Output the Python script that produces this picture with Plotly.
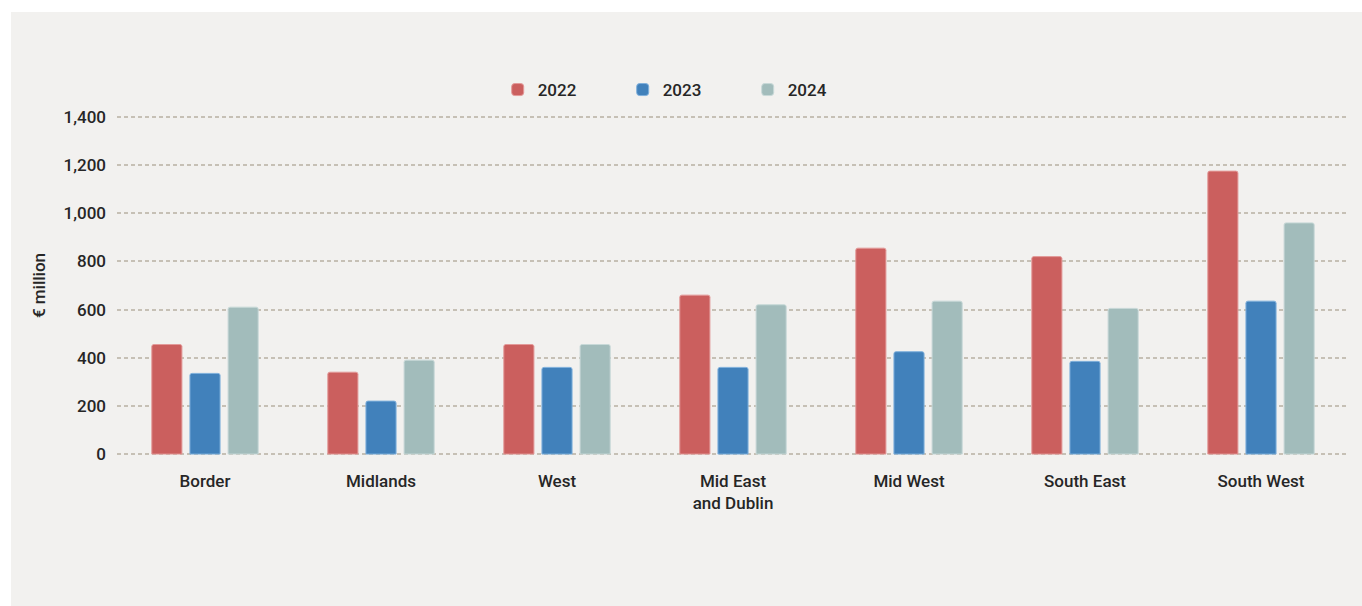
import plotly.graph_objects as go

# Regional values, € million
regions = ["Border", "Midlands", "West", "Mid East<br>and Dublin",
           "Mid West", "South East", "South West"]
years = ["2022", "2023", "2024"]
values_2022 = [455, 340, 455, 660, 855, 820, 1175]
values_2023 = [335, 220, 360, 360, 425, 385, 635]
values_2024 = [610, 390, 455, 620, 635, 605, 960]
y_ticks = [0, 200, 400, 600, 800, 1000, 1200, 1400]

colors = ["#cb5f5e", "#4181bb", "#a2bcbb"]
edges = ["#e39a99", "#7fb0dc", "#c8d9d8"]
panel = "#f2f1ef"
text_col = "#262626"
font_family = "Roboto, 'DejaVu Sans', sans-serif"
label_font = dict(family=font_family, size=17, color=text_col, weight=500)

fig = go.Figure()
for name, vals, c, e in zip(years, [values_2022, values_2023, values_2024], colors, edges):
    fig.add_trace(go.Bar(
        x=regions, y=vals, name=name,
        marker=dict(color=c, line=dict(color=e, width=1), cornerradius=2),
    ))

# plot area: 341 px tall, padded 8 units above and below the 0-1400 span
top, bottom = 115, 150
plot_h = 606 - top - bottom

fig.update_layout(
    width=1362, height=606,
    margin=dict(l=117, r=13, t=top, b=bottom),
    paper_bgcolor="white",
    plot_bgcolor="rgba(0,0,0,0)",
    barmode="group",
    bargap=0.35,
    bargroupgap=0.21,
    font=label_font,
    showlegend=True,
    legend=dict(
        orientation="h",
        x=0.309, xanchor="left",
        y=(606 - bottom - 90) / plot_h, yanchor="middle",
        entrywidth=80,
        font=label_font,
        bgcolor="rgba(0,0,0,0)",
    ),
    shapes=[dict(
        type="rect", xref="paper", yref="paper",
        x0=(11 - 117) / 1232, x1=1.02,
        y0=-0.46, y1=(606 - bottom - 12) / plot_h,
        fillcolor=panel, line=dict(width=0), layer="below",
    )],
)

fig.update_xaxes(
    showgrid=False, showline=False, zeroline=False, ticks="",
    ticklabelstandoff=13,
    tickfont=label_font,
)
fig.update_yaxes(
    range=[-8, 1408],
    tickvals=y_ticks,
    tickformat=",",
    showgrid=True, gridcolor="#c6c0b5", griddash="4px,3px", gridwidth=1.5,
    zeroline=False, showline=False, ticks="",
    ticklabelstandoff=10,
    tickfont=label_font,
    title=dict(text="€ million", font=label_font, standoff=13),
)

fig.write_html("out.html")
